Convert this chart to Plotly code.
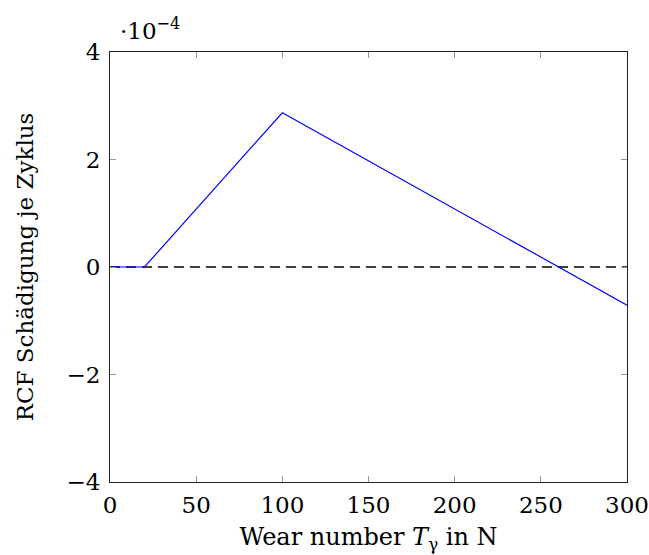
import plotly.graph_objects as go

wear_number = [0, 20, 100, 300]
rcf_damage = [0.0, 0.0, 2.87e-4, -0.71e-4]
zero_x = [0, 300]
zero_y = [0, 0]
x_ticks = [0, 50, 100, 150, 200, 250, 300]
y_ticks = [-4e-4, -2e-4, 0, 2e-4, 4e-4]
y_tick_labels = ["\u22124", "\u22122", "0", "2", "4"]

FONT = "DejaVu Serif"

fig = go.Figure()
fig.add_trace(go.Scatter(x=zero_x, y=zero_y, mode="lines",
                         line=dict(color="black", width=1.5, dash="10px,6px"),
                         showlegend=False))
fig.add_trace(go.Scatter(x=wear_number, y=rcf_damage, mode="lines",
                         line=dict(color="blue", width=1.2),
                         showlegend=False))

axis_common = dict(showgrid=False, zeroline=False, showline=True, linecolor="#222222",
                   linewidth=1.2, mirror="ticks", ticks="inside", ticklen=6,
                   tickcolor="#999999", tickwidth=1, automargin=False,
                   tickfont=dict(family=FONT, size=23, color="black"))

fig.update_layout(
    width=649, height=555,
    margin=dict(l=110, r=22, t=52, b=73, autoexpand=False),
    plot_bgcolor="white", paper_bgcolor="white",
    xaxis=dict(range=[0, 300], tickvals=x_ticks, ticklabelstandoff=2,
               title=dict(text="Wear number <i>T</i><sub>\u03b3</sub> in N",
                          font=dict(family=FONT, size=24, color="black"), standoff=11),
               **axis_common),
    yaxis=dict(range=[-4e-4, 4e-4], tickvals=y_ticks, ticktext=y_tick_labels,
               ticklabelstandoff=4,
               title=dict(text="RCF Schädigung je Zyklus",
                          font=dict(family=FONT, size=23, color="black"), standoff=26),
               **axis_common),
    annotations=[dict(text="\u00b710<sup>\u22124</sup>", xref="paper", yref="paper",
                      x=0.015, y=1.0, xanchor="left", yanchor="bottom", yshift=6,
                      showarrow=False, font=dict(family=FONT, size=23, color="black"))],
)

fig.write_html("out.html")
